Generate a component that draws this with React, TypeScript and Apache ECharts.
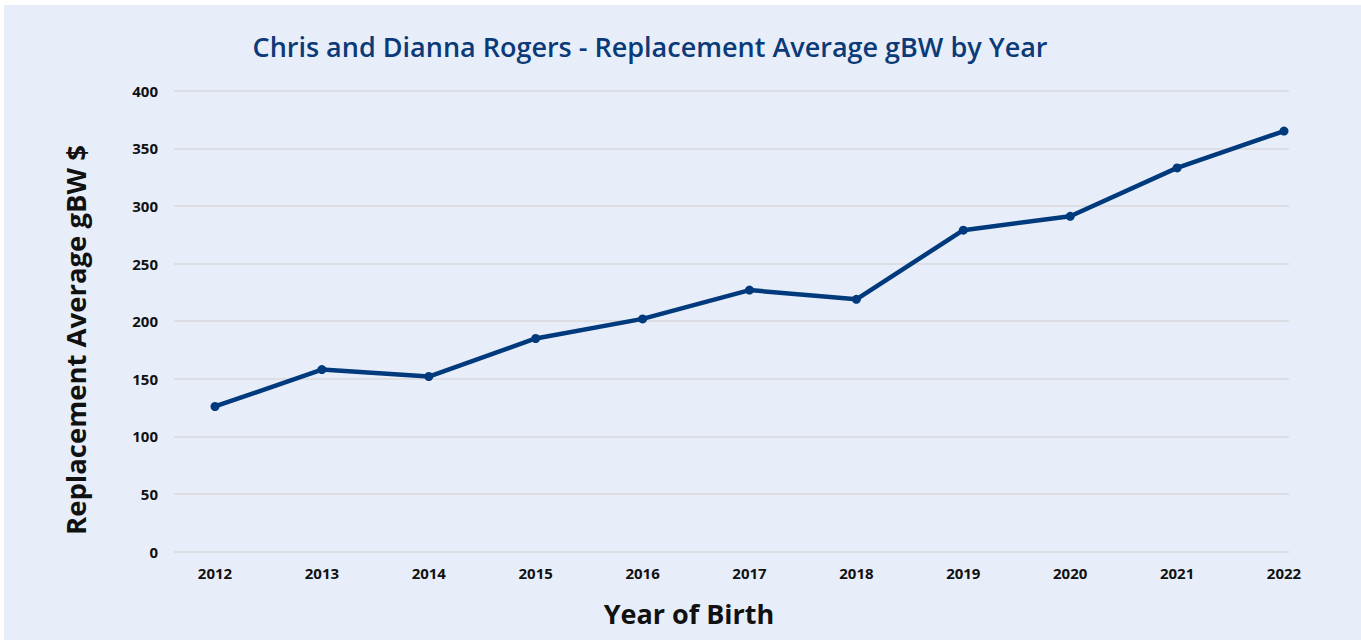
import React, { useEffect, useRef } from "react";
import * as echarts from "echarts";

const title = "Chris and Dianna Rogers - Replacement Average gBW by Year";
const yAxisTitle = "Replacement Average gBW $";
const xAxisTitle = "Year of Birth";
const years = ["2012", "2013", "2014", "2015", "2016", "2017", "2018", "2019", "2020", "2021", "2022"];
const averageGbw = [126, 158, 152, 185, 202, 227, 219, 279, 291, 333, 365];
const yTicks = [0, 50, 100, 150, 200, 250, 300, 350, 400];

export default function App() {
  const ref = useRef<HTMLDivElement>(null);
  useEffect(() => {
    if (!ref.current) return;
    const chart = echarts.init(ref.current, null, { renderer: "svg" });
    const font = "'Open Sans', 'Noto Sans', sans-serif";
    const top = 90.7;
    const bottom = 640 - 551.7;
    chart.setOption({
      animation: false,
      backgroundColor: "#ffffff",
      title: {
        text: title,
        left: 645,
        top: 28,
        textAlign: "center",
        textStyle: { color: "#0b3a78", fontFamily: font, fontWeight: 600, fontSize: 27 },
      },
      graphic: [
        {
          type: "rect",
          z: -10,
          silent: true,
          shape: { x: 4, y: 5, width: 1361, height: 640 },
          style: { fill: "#e7eef9" },
        },
        {
          type: "text",
          x: 75,
          y: 340,
          rotation: Math.PI / 2,
          style: {
            text: yAxisTitle,
            fill: "#111111",
            font: `bold 27.5px ${font}`,
            textAlign: "center",
            textVerticalAlign: "middle",
          },
        },
        {
          type: "text",
          x: 689,
          y: 613,
          style: {
            text: xAxisTitle,
            fill: "#111111",
            font: `bold 27px ${font}`,
            textAlign: "center",
            textVerticalAlign: "middle",
          },
        },
      ],
      grid: [
        { left: 174, right: 72, top, bottom },
        { left: 215, right: 77, top, bottom },
      ],
      xAxis: [
        { type: "value", gridIndex: 0, show: false },
        {
          type: "category",
          gridIndex: 1,
          data: years,
          boundaryGap: false,
          axisLine: { show: false },
          axisTick: { show: false },
          axisLabel: { color: "#111111", fontFamily: font, fontWeight: "bold", fontSize: 15, margin: 14 },
        },
      ],
      yAxis: [
        {
          type: "value",
          gridIndex: 0,
          min: yTicks[0],
          max: yTicks[yTicks.length - 1],
          interval: 50,
          axisLine: { show: false },
          axisTick: { show: false },
          splitLine: { lineStyle: { color: "#d8d9dc", width: 1.5 } },
          axisLabel: { color: "#111111", fontFamily: font, fontWeight: "bold", fontSize: 15, margin: 16 },
        },
        {
          type: "value",
          gridIndex: 1,
          min: yTicks[0],
          max: yTicks[yTicks.length - 1],
          show: false,
          splitLine: { show: false },
        },
      ],
      series: [
        {
          type: "line",
          xAxisIndex: 1,
          yAxisIndex: 1,
          data: averageGbw,
          symbol: "circle",
          symbolSize: 9,
          lineStyle: { color: "#003a7c", width: 4.5 },
          itemStyle: { color: "#003a7c" },
        },
      ],
    });
    return () => chart.dispose();
  }, []);
  return (
    <div
      ref={ref}
      style={{ position: "fixed", left: 0, top: 0, width: 1361, height: 640 }}
    />
  );
}
